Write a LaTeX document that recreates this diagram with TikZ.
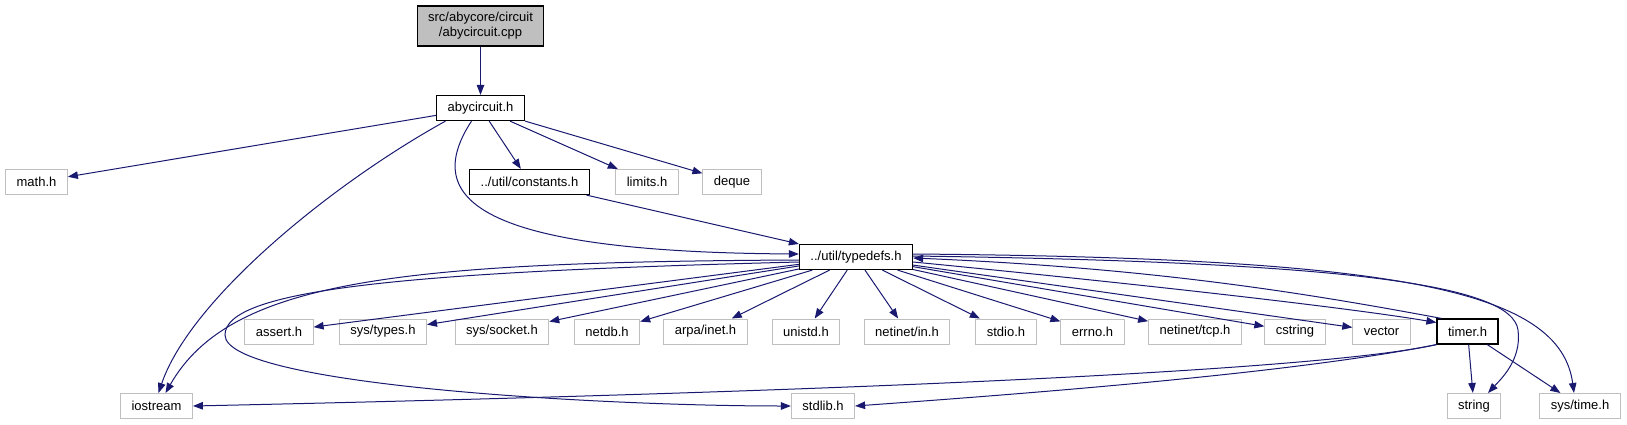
\documentclass[tikz,border=0pt]{standalone}
\usepackage{fontspec}
\setmainfont{Liberation Sans}
\usepackage{tikz}
\usetikzlibrary{arrows.meta,positioning,calc}
\definecolor{edgeblue}{HTML}{191970}
\definecolor{boxgray}{HTML}{BFBFBF}

\begin{document}
\begin{tikzpicture}[
    x=1pt, y=-1pt,
    hdr/.style={draw=boxgray, line width=1pt, rectangle, minimum height=25pt,
                inner xsep=11pt, inner ysep=2pt, fill=white,
                font=\fontsize{13}{15}\selectfont},
    own/.style={hdr, draw=black, line width=1.2pt},
    root/.style={own, fill=boxgray, align=center, minimum height=40pt},
    inc/.style={-{Stealth[length=10pt, width=7.5pt, inset=0pt]}, line width=1pt, color=edgeblue}
]
\useasboundingbox (0,0) rectangle (1627,425);

% --- files ---
\node[root] (src) at (480.5,26) {src/abycore/circuit\\/abycircuit.cpp};
\node[own] (aby) at (480.5,108) {abycircuit.h};

\node[hdr] (mathh)   at (36.5,182) {math.h};
\node[own] (consts)  at (529.5,182) {../util/constants.h};
\node[hdr] (limitsh) at (647,182)  {limits.h};
\node[hdr] (dequeh)  at (732,182)  {deque};

\node[own] (typedefs) at (856,257) {../util/typedefs.h};

\node[hdr] (asserth)    at (279,331.5)   {assert.h};
\node[hdr] (systypes)   at (383,331.5)   {sys/types.h};
\node[hdr] (syssocket)  at (502,331.5)   {sys/socket.h};
\node[hdr] (netdb)      at (607,331.5)   {netdb.h};
\node[hdr] (arpainet)   at (705.5,331.5) {arpa/inet.h};
\node[hdr] (unistd)     at (806,331.5)   {unistd.h};
\node[hdr] (netinetin)  at (907,331.5)   {netinet/in.h};
\node[hdr] (stdioh)     at (1006,331.5)  {stdio.h};
\node[hdr] (errnoh)     at (1092.5,331.5) {errno.h};
\node[hdr] (netinettcp) at (1195,331.5)  {netinet/tcp.h};
\node[hdr] (cstringh)   at (1295,331.5)  {cstring};
\node[hdr] (vectorh)    at (1381.5,331.5) {vector};
\node[own] (timer)      at (1467.5,331.5) {timer.h};

\node[hdr] (iostreamh) at (156.5,406) {iostream};
\node[hdr] (stdlibh)   at (823,406)   {stdlib.h};
\node[hdr] (stringh)   at (1474,406)  {string};
\node[hdr] (systime)   at (1580,406)  {sys/time.h};

% --- includes of abycircuit ---
\draw[inc] (src) -- (aby);
\draw[inc] (aby) -- (mathh);
\draw[inc] ([xshift=-35pt]aby.south) .. controls (330,185) and (190,300) .. ([xshift=2pt]iostreamh.north);
\draw[inc] ([xshift=-9pt]aby.south) .. controls (420,200) and (480,252) .. ([yshift=3pt]typedefs.west);
\draw[inc] (aby) -- (consts);
\draw[inc] (aby) -- (limitsh);
\draw[inc] (aby) -- (dequeh);
\draw[inc] (consts) -- (typedefs);

% --- includes of typedefs ---
\draw[inc] (typedefs) -- (asserth);
\draw[inc] (typedefs) -- (systypes);
\draw[inc] (typedefs) -- (syssocket);
\draw[inc] (typedefs) -- (netdb);
\draw[inc] (typedefs) -- (arpainet);
\draw[inc] (typedefs) -- (unistd);
\draw[inc] (typedefs) -- (netinetin);
\draw[inc] (typedefs) -- (stdioh);
\draw[inc] (typedefs) -- (errnoh);
\draw[inc] (typedefs) -- (netinettcp);
\draw[inc] (typedefs) -- (cstringh);
\draw[inc] (typedefs) -- (vectorh);
\draw[inc] ([yshift=-5pt]typedefs.east) .. controls (1150,285) and (1350,308) .. ([yshift=9pt]timer.west);
\draw[inc] ([yshift=-3pt]typedefs.west) .. controls (400,262) and (230,280) .. ([xshift=9pt]iostreamh.north);
\draw[inc] ([yshift=-5pt]typedefs.west) .. controls (400,272) and (225,290) .. (225,335)
           .. controls (225,385) and (600,406) .. (stdlibh.west);
\draw[inc] ([yshift=1pt]typedefs.east) .. controls (1350,262) and (1512,285) .. (1518,330)
           .. controls (1522,360) and (1500,380) .. ([xshift=14pt]stringh.north);
\draw[inc] ([yshift=3pt]typedefs.east) .. controls (1400,258) and (1560,290) .. ([xshift=-6pt]systime.north);

% --- includes of timer ---
\draw[inc] ([xshift=5pt]timer.north west) .. controls (1300,292) and (1150,268) .. ([yshift=-1pt]typedefs.east);
\draw[inc] (timer.south west) .. controls (1300,375) and (700,395) .. (iostreamh.east);
\draw[inc] (timer.south west) .. controls (1300,372) and (1050,392) .. (stdlibh.east);
\draw[inc] (timer) -- (stringh);
\draw[inc] (timer) -- (systime);

\end{tikzpicture}
\end{document}
